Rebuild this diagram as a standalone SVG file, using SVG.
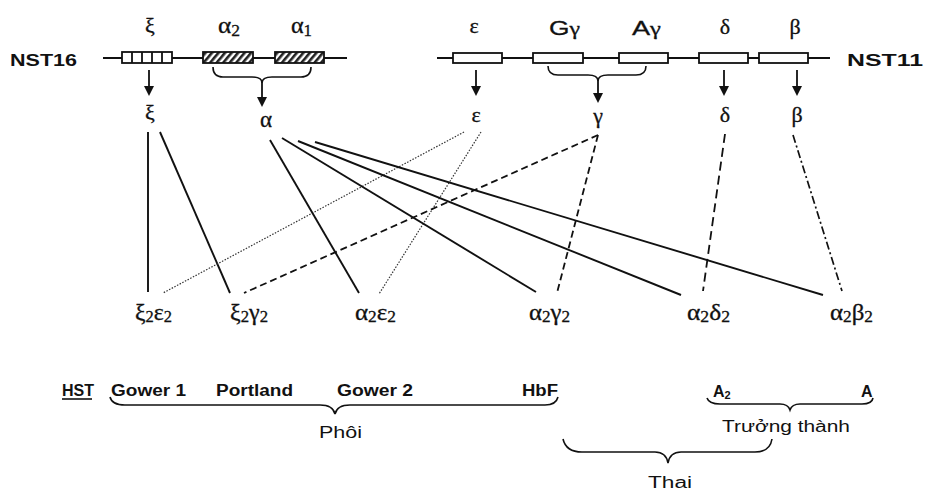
<svg xmlns="http://www.w3.org/2000/svg" width="925" height="491" viewBox="0 0 925 491">
<style>
.bg{fill:#fff}
.chr{stroke:#111;stroke-width:1.8;fill:none}
.box{stroke:#111;stroke-width:1.8;fill:#fff}
.hbox{stroke:#111;stroke-width:1.8;fill:url(#hatch)}
.arr{stroke:#111;stroke-width:1.8;fill:none}
.brace{stroke:#111;stroke-width:1.6;fill:none}
.gk{font-family:"Liberation Serif","DejaVu Serif",serif;font-size:22px;fill:#111;stroke:#111;stroke-width:0.3;text-anchor:middle}
.gk2{font-family:"Liberation Serif","DejaVu Serif",serif;font-size:23px;fill:#111;stroke:#111;stroke-width:0.3}
.sub{font-size:16px}
.lbl{font-family:"Liberation Sans",Arial,sans-serif;font-weight:bold;font-size:17px;fill:#111}
.gg{font-family:"Liberation Sans",Arial,sans-serif;font-size:21px;fill:#111;stroke:#111;stroke-width:0.3}
.hb{font-family:"Liberation Sans",Arial,sans-serif;font-weight:bold;font-size:16px;fill:#111}
.st{font-family:"Liberation Sans",Arial,sans-serif;font-size:16px;fill:#111}
.solid{stroke:#111;stroke-width:1.9;fill:none}
.dot{stroke:#333;stroke-width:1.2;stroke-dasharray:1.5 1.5;fill:none}
.dash{stroke:#111;stroke-width:1.8;stroke-dasharray:7 4;fill:none}
.ldash{stroke:#111;stroke-width:1.8;stroke-dasharray:9 5;fill:none}
.dashdot{stroke:#111;stroke-width:1.7;stroke-dasharray:8 3 2 3;fill:none}
</style>
<defs>
<pattern id="hatch" patternUnits="userSpaceOnUse" width="5" height="5" patternTransform="rotate(40)">
<rect width="5" height="5" fill="#fff"/>
<rect width="2.6" height="5" fill="#222"/>
</pattern>
</defs>
<rect class="bg" x="0" y="0" width="925" height="491"/>

<g id="nst16">
<text class="lbl" x="10" y="66" textLength="67" lengthAdjust="spacingAndGlyphs">NST16</text>
<line class="chr" x1="103" y1="58" x2="347" y2="58"/>
</g>
<g id="gene-xi">
<text class="gk" x="150" y="33">ξ</text>
<rect class="box" x="122" y="52" width="50" height="11"/>
<path class="chr" d="M132,52 V63 M142,52 V63 M152,52 V63 M162,52 V63"/>
<line class="arr" x1="149" y1="70" x2="149" y2="86"/>
<path d="M144,86 L154,86 L149,96 Z" fill="#111"/>
<text class="gk" x="150" y="120">ξ</text>
</g>
<g id="gene-alpha">
<text class="gk2" x="218" y="33" textLength="22" lengthAdjust="spacingAndGlyphs">α<tspan class="sub" dy="3">2</tspan></text>
<text class="gk2" x="291" y="33" textLength="21" lengthAdjust="spacingAndGlyphs">α<tspan class="sub" dy="3">1</tspan></text>
<rect class="hbox" x="203" y="52" width="50" height="11"/>
<rect class="hbox" x="275" y="52" width="49" height="11"/>
<path class="brace" d="M213,67 Q213,77 223,77 L252,77 Q262,77 262,83 Q262,77 272,77 L301,77 Q311,77 311,67"/>
<line class="arr" x1="262" y1="82" x2="262" y2="97"/>
<path d="M257,97 L267,97 L262,107 Z" fill="#111"/>
<text class="gk" x="266" y="127" style="font-size:23px">α</text>
</g>

<g id="nst11">
<line class="chr" x1="437" y1="58" x2="830" y2="58"/>
<text class="lbl" x="847" y="66" textLength="76" lengthAdjust="spacingAndGlyphs">NST11</text>
</g>
<g id="gene-epsilon">
<text class="gk" x="474" y="33">ε</text>
<rect class="box" x="453" y="53" width="49" height="10"/>
<line class="arr" x1="476" y1="70" x2="476" y2="86"/>
<path d="M471,86 L481,86 L476,96 Z" fill="#111"/>
<text class="gk" x="476" y="122">ε</text>
</g>
<g id="gene-gamma">
<text class="gg" x="549" y="35" textLength="31" lengthAdjust="spacingAndGlyphs">G<tspan style="font-family:'Liberation Serif',serif;font-size:19px">γ</tspan></text>
<text class="gg" x="632" y="35" textLength="29" lengthAdjust="spacingAndGlyphs">A<tspan style="font-family:'Liberation Serif',serif;font-size:19px">γ</tspan></text>
<rect class="box" x="533" y="53" width="50" height="10"/>
<rect class="box" x="619" y="53" width="49" height="10"/>
<path class="brace" d="M548,66 Q548,75 558,75 L588,75 Q598,75 598,81 Q598,75 608,75 L636,75 Q646,75 646,66"/>
<line class="arr" x1="598" y1="80" x2="598" y2="93"/>
<path d="M593,93 L603,93 L598,103 Z" fill="#111"/>
<text class="gk" x="598" y="123">γ</text>
</g>
<g id="gene-delta">
<text class="gk" x="725" y="34">δ</text>
<rect class="box" x="699" y="53" width="49" height="10"/>
<line class="arr" x1="724" y1="70" x2="724" y2="86"/>
<path d="M719,86 L729,86 L724,96 Z" fill="#111"/>
<text class="gk" x="725" y="122">δ</text>
</g>
<g id="gene-beta">
<text class="gk" x="795" y="34">β</text>
<rect class="box" x="759" y="53" width="49" height="10"/>
<line class="arr" x1="797" y1="70" x2="797" y2="86"/>
<path d="M792,86 L802,86 L797,96 Z" fill="#111"/>
<text class="gk" x="797" y="122">β</text>
</g>

<g id="connectors">
<line class="solid" x1="148" y1="132" x2="148" y2="292"/>
<line class="solid" x1="160" y1="132" x2="230" y2="293"/>
<line class="dot" x1="464" y1="132" x2="163" y2="293"/>
<line class="dot" x1="481" y1="132" x2="379" y2="294"/>
<line class="dash" x1="598" y1="135" x2="244" y2="293"/>
<line class="dash" x1="598" y1="135" x2="557" y2="293"/>
<line class="solid" x1="270" y1="140" x2="359" y2="293"/>
<line class="solid" x1="282" y1="138" x2="536" y2="292"/>
<line class="solid" x1="298" y1="141" x2="681" y2="295"/>
<line class="solid" x1="315" y1="142" x2="823" y2="295"/>
<line class="ldash" x1="725" y1="134" x2="703" y2="291"/>
<line class="dashdot" x1="793" y1="135" x2="842" y2="291"/>
</g>

<g id="hb-xi2eps2"><text class="gk2" x="135" y="320" textLength="37" lengthAdjust="spacingAndGlyphs">ξ<tspan class="sub" dy="2">2</tspan><tspan dy="-2">ε</tspan><tspan class="sub" dy="2">2</tspan></text></g>
<g id="hb-xi2gam2"><text class="gk2" x="230" y="320" textLength="38" lengthAdjust="spacingAndGlyphs">ξ<tspan class="sub" dy="2">2</tspan><tspan dy="-2">γ</tspan><tspan class="sub" dy="2">2</tspan></text></g>
<g id="hb-a2eps2"><text class="gk2" x="355" y="320" textLength="41" lengthAdjust="spacingAndGlyphs">α<tspan class="sub" dy="2">2</tspan><tspan dy="-2">ε</tspan><tspan class="sub" dy="2">2</tspan></text></g>
<g id="hb-a2gam2"><text class="gk2" x="529" y="320" textLength="41" lengthAdjust="spacingAndGlyphs">α<tspan class="sub" dy="2">2</tspan><tspan dy="-2">γ</tspan><tspan class="sub" dy="2">2</tspan></text></g>
<g id="hb-a2del2"><text class="gk2" x="687" y="320" textLength="43" lengthAdjust="spacingAndGlyphs">α<tspan class="sub" dy="2">2</tspan><tspan dy="-2">δ</tspan><tspan class="sub" dy="2">2</tspan></text></g>
<g id="hb-a2bet2"><text class="gk2" x="830" y="320" textLength="43" lengthAdjust="spacingAndGlyphs">α<tspan class="sub" dy="2">2</tspan><tspan dy="-2">β</tspan><tspan class="sub" dy="2">2</tspan></text></g>

<g id="hst">
<text class="hb" x="62" y="396">HST</text>
<line x1="62" y1="399" x2="92" y2="399" stroke="#111" stroke-width="1.6"/>
</g>
<g id="embryo">
<text class="hb" x="111" y="396" textLength="75" lengthAdjust="spacingAndGlyphs">Gower 1</text>
<text class="hb" x="216" y="396" textLength="77" lengthAdjust="spacingAndGlyphs">Portland</text>
<text class="hb" x="337" y="396" textLength="76" lengthAdjust="spacingAndGlyphs">Gower 2</text>
<text class="hb" x="522" y="396" textLength="36" lengthAdjust="spacingAndGlyphs">HbF</text>
<path class="brace" d="M110,397 Q112,405 125,405 L320,405 Q333,405 335,414 Q337,405 350,405 L545,405 Q556,405 558,397"/>
<text class="st" x="319" y="438" textLength="43" lengthAdjust="spacingAndGlyphs">Phôi</text>
</g>
<g id="adult">
<text class="hb" x="713" y="397">A<tspan style="font-size:11px" dy="2">2</tspan></text>
<text class="hb" x="861" y="397">A</text>
<path class="brace" d="M707,398 Q709,404 720,404 L780,404 Q788,404 790,410 Q792,404 800,404 L862,404 Q872,404 873,398"/>
<text class="st" x="722" y="432" textLength="128" lengthAdjust="spacingAndGlyphs">Trưởng thành</text>
</g>
<g id="fetal">
<path class="brace" d="M563,439 Q566,452 582,452 L655,452 Q666,452 668,463 Q670,452 681,452 L755,452 Q770,452 772,439"/>
<text class="st" x="648" y="488" textLength="44" lengthAdjust="spacingAndGlyphs">Thai</text>
</g>
</svg>
